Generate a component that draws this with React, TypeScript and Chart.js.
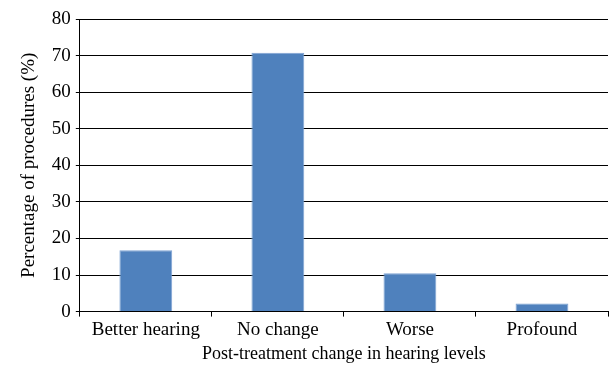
import React, { useEffect, useRef } from "react";
import { Chart, registerables } from "chart.js";

Chart.register(...registerables);

const categories = ["Better hearing", "No change", "Worse", "Profound"];
const percentages = [16.8, 70.8, 10.5, 2.2];
const yTicks = [0, 10, 20, 30, 40, 50, 60, 70, 80];
const xTitle = "Post-treatment change in hearing levels";
const yTitle = "Percentage of procedures (%)";

export default function App() {
  const ref = useRef<HTMLCanvasElement | null>(null);
  useEffect(() => {
    document.body.style.margin = "0";
    const ctx = ref.current!.getContext("2d")!;
    const font = "'Liberation Serif', serif";
    const chart = new Chart(ctx, {
      type: "bar",
      data: {
        labels: categories,
        datasets: [
          {
            data: percentages,
            backgroundColor: "#4F81BD",
            borderColor: "#7FA3D3",
            borderWidth: 1,
            barPercentage: 0.4,
            categoryPercentage: 1,
          },
        ],
      },
      options: {
        responsive: false,
        animation: false,
        layout: { padding: { top: 19, right: 1, left: 18, bottom: 0 } },
        plugins: { legend: { display: false }, tooltip: { enabled: false } },
        scales: {
          x: {
            grid: {
              offset: true,
              drawOnChartArea: false,
              color: "#000",
              tickLength: 5,
            },
            border: { color: "#000", width: 1 },
            ticks: { color: "#000", font: { family: font, size: 19 }, padding: 2, maxRotation: 0 },
            title: {
              display: true,
              text: xTitle,
              color: "#000",
              font: { family: font, size: 18 },
              padding: { top: 0, bottom: 0 },
            },
          },
          y: {
            min: 0,
            max: 80,
            afterBuildTicks: (axis: any) => {
              axis.ticks = yTicks.map((v) => ({ value: v }));
            },
            grid: { color: "#000", tickLength: 4 },
            border: { color: "#000", width: 1 },
            ticks: { color: "#000", font: { family: font, size: 19 }, padding: 5 },
            title: {
              display: true,
              text: yTitle,
              color: "#000",
              font: { family: font, size: 19 },
              padding: { top: 0, bottom: 6 },
            },
          },
        },
      },
    });
    return () => chart.destroy();
  }, []);
  return <canvas ref={ref} width={609} height={365} style={{ display: "block" }} />;
}
